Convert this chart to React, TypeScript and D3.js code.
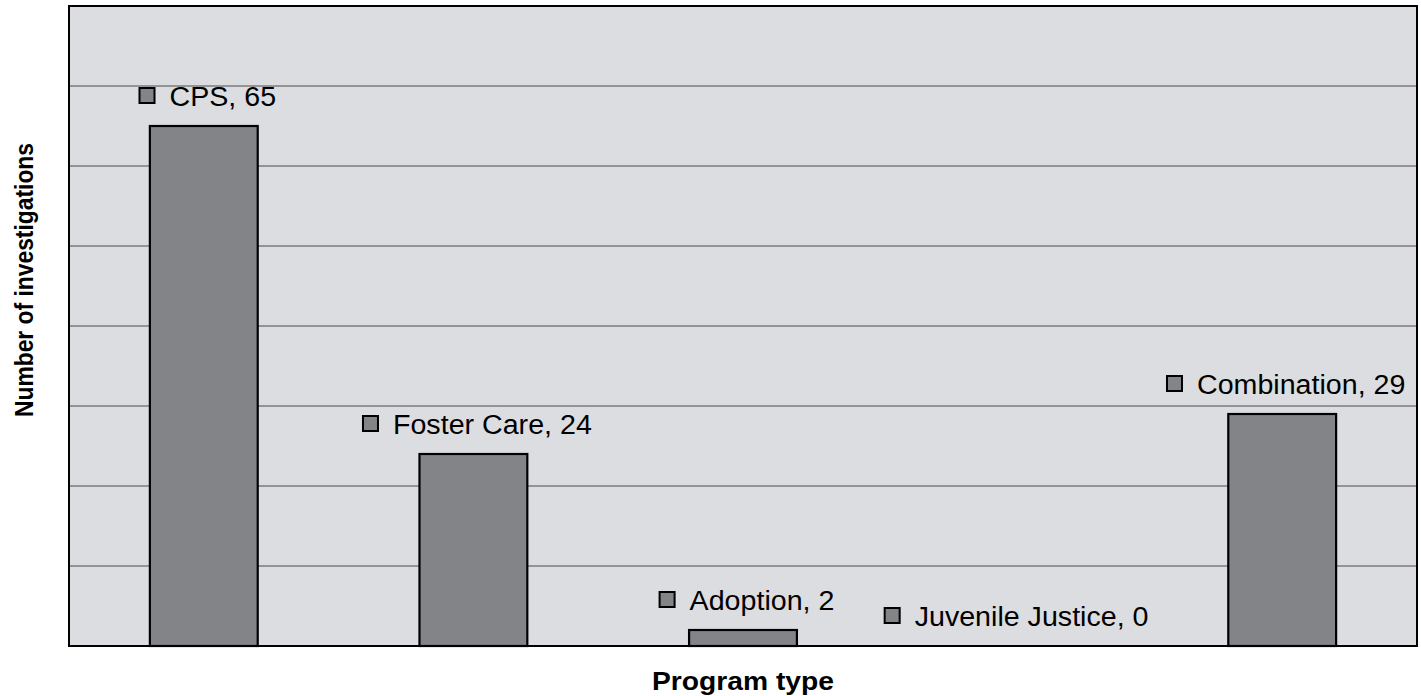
import React, { useEffect, useRef } from 'react';
import * as d3 from 'd3';

const categories = ['CPS', 'Foster Care', 'Adoption', 'Juvenile Justice', 'Combination'];
const values = [65, 24, 2, 0, 29];
const yTicks = [0, 10, 20, 30, 40, 50, 60, 70, 80];

const W = 1421;
const H = 696;
const FONT = '"Liberation Sans", Arial, Helvetica, sans-serif';

const App = () => {
  const svgRef = useRef<SVGSVGElement>(null);

  useEffect(() => {
    const svg = d3.select(svgRef.current);
    svg.selectAll('*').remove();

    const left = 69, right = 1417, top = 6, bottom = 646;

    const x = d3.scaleBand<string>()
      .domain(categories)
      .range([left, right])
      .paddingInner(0.6)
      .paddingOuter(0.3);

    const y = d3.scaleLinear().domain([0, 80]).range([bottom, top]);

    // plot background
    svg.append('rect')
      .attr('x', left).attr('y', top)
      .attr('width', right - left).attr('height', bottom - top)
      .attr('fill', '#dcdde0');

    // gridlines
    svg.append('g')
      .selectAll('line')
      .data(yTicks.slice(1, -1))
      .enter().append('line')
      .attr('x1', left).attr('x2', right)
      .attr('y1', d => y(d)).attr('y2', d => y(d))
      .attr('stroke', '#4a4a4a')
      .attr('stroke-width', 1);

    // bars
    svg.append('g')
      .selectAll('rect')
      .data(values)
      .enter().append('rect')
      .attr('x', (d, i) => x(categories[i])!)
      .attr('y', d => y(d))
      .attr('width', x.bandwidth())
      .attr('height', d => bottom - y(d))
      .attr('fill', '#838488')
      .attr('stroke', '#000')
      .attr('stroke-width', 2.2);

    // frame
    svg.append('rect')
      .attr('x', left).attr('y', top)
      .attr('width', right - left).attr('height', bottom - top)
      .attr('fill', 'none')
      .attr('stroke', '#000')
      .attr('stroke-width', 2);

    // data labels with legend key
    const labels = svg.append('g')
      .selectAll('g')
      .data(values)
      .enter().append('g');

    labels.each(function (d, i) {
      const g = d3.select(this);
      const cx = x(categories[i])! + x.bandwidth() / 2 + 4;
      const base = y(d) - 20;
      const t = g.append('text')
        .attr('y', base)
        .attr('font-family', FONT)
        .attr('font-size', 27)
        .attr('fill', '#000')
        .text(`${categories[i]}, ${d}`);
      const tw = (t.node() as SVGTextElement).getComputedTextLength() * 1.06;
      t.attr('textLength', tw).attr('lengthAdjust', 'spacingAndGlyphs');
      const total = 15 + 15 + tw;
      const x0 = cx - total / 2;
      t.attr('x', x0 + 30);
      g.append('rect')
        .attr('x', x0).attr('y', base - 18)
        .attr('width', 15).attr('height', 15)
        .attr('fill', '#838488')
        .attr('stroke', '#000')
        .attr('stroke-width', 2);
    });

    // axis titles
    svg.append('text')
      .attr('x', (left + right) / 2)
      .attr('y', 690)
      .attr('text-anchor', 'middle')
      .attr('font-family', FONT)
      .attr('font-weight', 'bold')
      .attr('font-size', 26)
      .attr('textLength', 182)
      .attr('lengthAdjust', 'spacingAndGlyphs')
      .text('Program type');

    svg.append('text')
      .attr('transform', 'translate(33,280) rotate(-90)')
      .attr('text-anchor', 'middle')
      .attr('font-family', FONT)
      .attr('font-weight', 'bold')
      .attr('font-size', 25)
      .attr('textLength', 274)
      .attr('lengthAdjust', 'spacingAndGlyphs')
      .text('Number of investigations');
  }, []);

  return (
    <svg
      ref={svgRef}
      width={W}
      height={H}
      style={{ position: 'absolute', left: 0, top: 0, display: 'block', background: '#fff' }}
    ></svg>
  );
};

export default App;
